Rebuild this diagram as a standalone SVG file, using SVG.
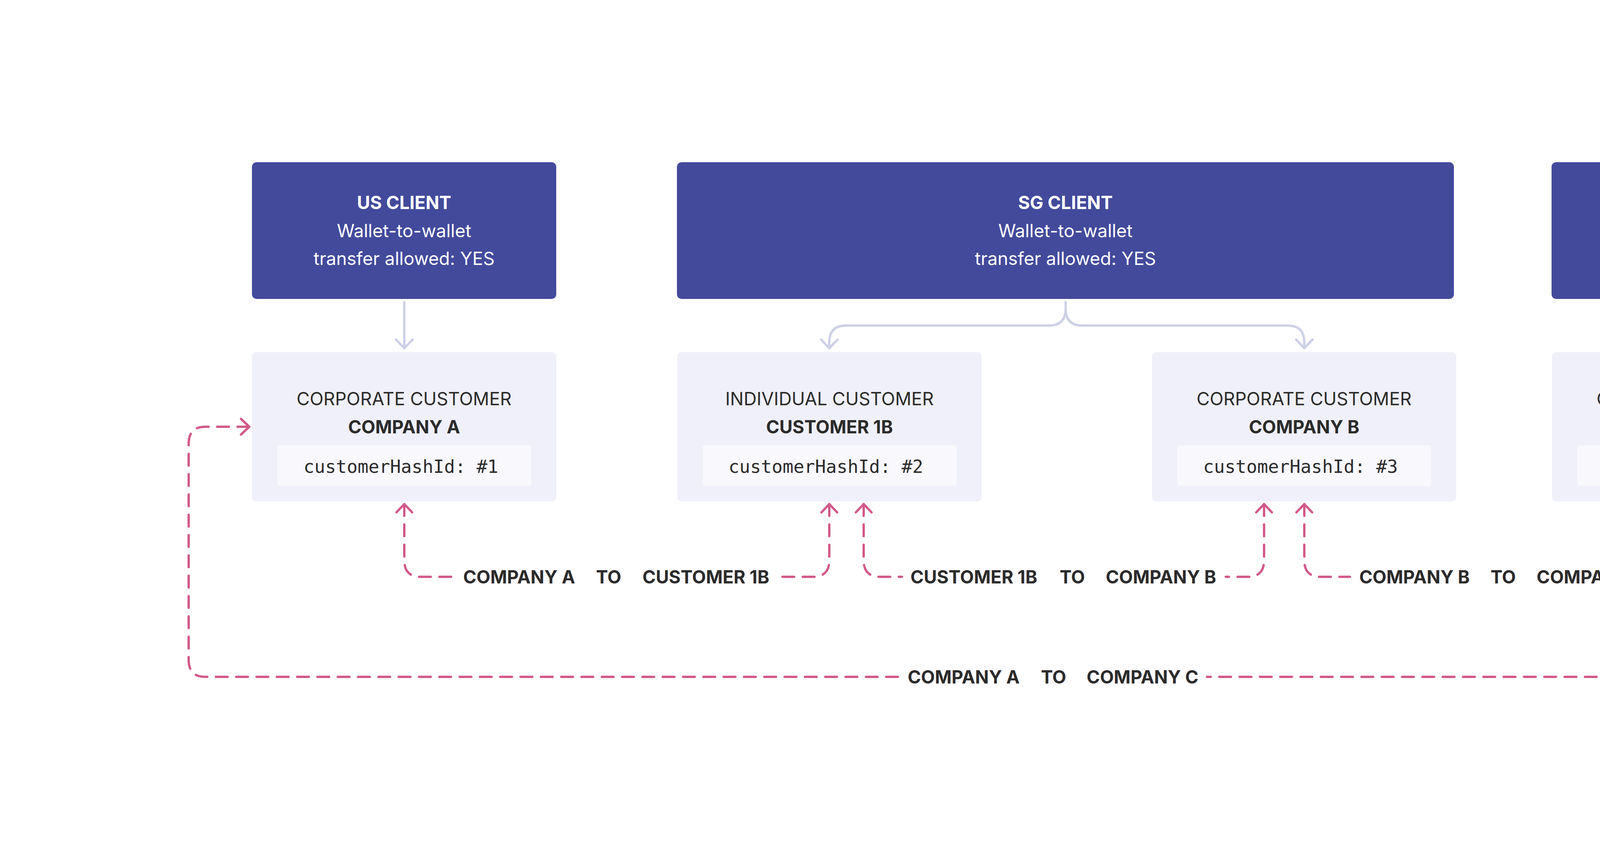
<svg xmlns="http://www.w3.org/2000/svg" width="5352" height="2216" viewBox="0 0 5352 2216">
<style>
.client{fill:#434A9B}
.cust{fill:#F0F0FA}
.code{fill:#F8F8FD}
.t{font-family:Inter,"Liberation Sans",sans-serif;font-size:46px;text-anchor:middle}
.w{fill:#FFFFFF}
.d{fill:#2B2B2B}
.b{font-weight:700}
.mono{font-family:"DejaVu Sans Mono","Liberation Mono",monospace;font-size:46px;fill:#2B2B2B}
.lab{font-family:Inter,"Liberation Sans",sans-serif;font-size:46px;font-weight:700;fill:#2B2B2B;text-anchor:middle}
.flow{fill:none;stroke:#CDD0E6;stroke-width:6;stroke-linecap:round;stroke-linejoin:round}
.pink{fill:none;stroke:#D25A8A;stroke-width:6;stroke-linecap:round;stroke-dasharray:30 22}
</style>
<defs>
<marker id="ah" markerUnits="userSpaceOnUse" markerWidth="60" markerHeight="60" viewBox="-30 -30 60 60" refX="0" refY="0" orient="auto">
<path d="M-22,-21 L0,0 L-22,21" fill="none" stroke="#CDD0E6" stroke-width="6" stroke-linecap="round" stroke-linejoin="round"/>
</marker>
<marker id="ph" markerUnits="userSpaceOnUse" markerWidth="60" markerHeight="60" viewBox="-30 -30 60 60" refX="0" refY="0" orient="auto-start-reverse">
<path d="M-21,-20 L0,0 L-21,20 M-22,0 L0,0" fill="none" stroke="#D25A8A" stroke-width="6" stroke-linecap="round" stroke-linejoin="round"/>
</marker>
</defs>
<rect width="5352" height="2216" fill="#FFFFFF"/>

<g id="us-client">
<rect class="client" x="645" y="415" width="779" height="350" rx="12"/>
<text class="t w b" x="1034.5" y="535">US CLIENT</text>
<text class="t w" x="1034.5" y="607">Wallet-to-wallet</text>
<text class="t w" x="1034.5" y="678">transfer allowed: YES</text>
</g>
<g id="sg-client">
<rect class="client" x="1733" y="415" width="1989" height="350" rx="12"/>
<text class="t w b" x="2727.5" y="535">SG CLIENT</text>
<text class="t w" x="2727.5" y="607">Wallet-to-wallet</text>
<text class="t w" x="2727.5" y="678">transfer allowed: YES</text>
</g>
<g id="uk-client">
<rect class="client" x="3972" y="415" width="781" height="350" rx="12"/>
<text class="t w b" x="4362.5" y="535">UK CLIENT</text>
<text class="t w" x="4362.5" y="607">Wallet-to-wallet</text>
<text class="t w" x="4362.5" y="678">transfer allowed: YES</text>
</g>

<g id="company-a">
<rect class="cust" x="645" y="901" width="779" height="382" rx="10"/>
<text class="t d" x="1034.5" y="1037">CORPORATE CUSTOMER</text>
<text class="t d b" x="1034.5" y="1109">COMPANY A</text>
<rect class="code" x="710" y="1140" width="650" height="103" rx="5"/>
<text class="mono" x="777" y="1210">customerHashId: #1</text>
</g>
<g id="customer-1b">
<rect class="cust" x="1734" y="901" width="779" height="382" rx="10"/>
<text class="t d" x="2123.5" y="1037">INDIVIDUAL CUSTOMER</text>
<text class="t d b" x="2123.5" y="1109">CUSTOMER 1B</text>
<rect class="code" x="1799" y="1140" width="650" height="103" rx="5"/>
<text class="mono" x="1865" y="1210">customerHashId: #2</text>
</g>
<g id="company-b">
<rect class="cust" x="2949" y="901" width="779" height="382" rx="10"/>
<text class="t d" x="3338.5" y="1037">CORPORATE CUSTOMER</text>
<text class="t d b" x="3338.5" y="1109">COMPANY B</text>
<rect class="code" x="3014" y="1140" width="650" height="103" rx="5"/>
<text class="mono" x="3080" y="1210">customerHashId: #3</text>
</g>
<g id="company-c">
<rect class="cust" x="3973" y="901" width="779" height="382" rx="10"/>
<text class="t d" x="4362.5" y="1037">CORPORATE CUSTOMER</text>
<text class="t d b" x="4362.5" y="1109">COMPANY C</text>
<rect class="code" x="4038" y="1140" width="650" height="103" rx="5"/>
<text class="mono" x="4104" y="1210">customerHashId: #4</text>
</g>

<g id="connectors">
<path class="flow" d="M1035,773 V891" marker-end="url(#ah)"/>
<path class="flow" d="M4363,773 V891" marker-end="url(#ah)"/>
<path class="flow" d="M2728,773 V790 Q2728,833 2685,833 H2166 Q2123,833 2123,876 V891" marker-end="url(#ah)"/>
<path class="flow" d="M2728,773 V790 Q2728,833 2771,833 H3296 Q3339,833 3339,876 V891" marker-end="url(#ah)"/>

<path class="pink" d="M1035,1290 V1434 Q1035,1476 1077,1476 H1162" marker-start="url(#ph)"/>
<path class="pink" d="M2123,1290 V1434 Q2123,1476 2081,1476 H1996" marker-start="url(#ph)"/>
<path class="pink" d="M2211,1290 V1434 Q2211,1476 2253,1476 H2309" marker-start="url(#ph)"/>
<path class="pink" d="M3236,1290 V1434 Q3236,1476 3194,1476 H3138" marker-start="url(#ph)"/>
<path class="pink" d="M3339,1290 V1434 Q3339,1476 3381,1476 H3456" marker-start="url(#ph)"/>
<path class="pink" d="M4364,1290 V1434 Q4364,1476 4322,1476 H4244" marker-start="url(#ph)"/>
<path class="pink" d="M638,1092 H526 Q483,1092 483,1135 V1689 Q483,1732 526,1732 H2302" marker-start="url(#ph)"/>
<path class="pink" d="M4760,1092 H4857 Q4900,1092 4900,1135 V1689 Q4900,1732 4857,1732 H3090" marker-start="url(#ph)"/>

<text class="lab" x="1329" y="1493">COMPANY A</text>
<text class="lab" x="1558" y="1493">TO</text>
<text class="lab" x="1807" y="1493">CUSTOMER 1B</text>
<text class="lab" x="2493" y="1493">CUSTOMER 1B</text>
<text class="lab" x="2745" y="1493">TO</text>
<text class="lab" x="2972" y="1493">COMPANY B</text>
<text class="lab" x="3621" y="1493">COMPANY B</text>
<text class="lab" x="3848" y="1493">TO</text>
<text class="lab" x="4077" y="1493">COMPANY C</text>
<text class="lab" x="2467" y="1749">COMPANY A</text>
<text class="lab" x="2697" y="1749">TO</text>
<text class="lab" x="2925" y="1749">COMPANY C</text>
</g>
</svg>
